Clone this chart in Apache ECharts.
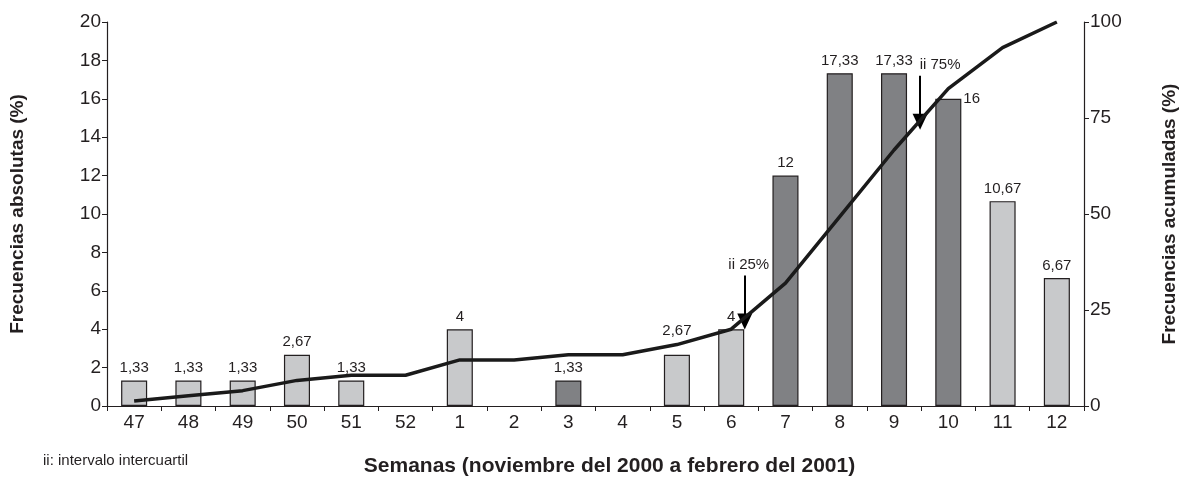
<!DOCTYPE html>
<html>
<head>
<meta charset="utf-8">
<script src="https://cdn.jsdelivr.net/npm/echarts@6/dist/echarts.min.js"></script>
<style>
  html, body { margin: 0; padding: 0; background: #fff; }
  #chart { width: 1184px; height: 478px; }
</style>
</head>
<body>
<div id="chart"></div>
<script>
// semanas epidemiologicas
let weeks = ['47', '48', '49', '50', '51', '52', '1', '2', '3', '4', '5', '6', '7', '8', '9', '10', '11', '12'];
// frecuencias absolutas (%) por semana
let absFreq = [1.33, 1.33, 1.33, 2.67, 1.33, 0, 4, 0, 1.33, 0, 2.67, 4, 12, 17.33, 17.33, 16, 10.67, 6.67];
// frecuencias acumuladas (%)
let cumFreq = [1.33, 2.67, 4, 6.67, 8, 8, 12, 12, 13.33, 13.33, 16, 20, 32, 49.33, 66.67, 82.67, 93.33, 100];
// semanas con barra oscura
let darkWeeks = ['3', '7', '8', '9', '10'];
// flechas del intervalo intercuartil: [posicion x (en semanas), y inicio, y fin]
let iqrLabels = ['ii 25%', 'ii 75%'];
let iqrArrows = [[11.75, 34, 22], [14.98, 86, 74]];

let fontFamily = '"Liberation Sans", Arial, Helvetica, sans-serif';
let txt = '#231f20';

let chart = echarts.init(document.getElementById('chart'));

let barData = absFreq.map((v, i) => {
  let item = {value: v};
  if (v === 0) {
    item.label = {show: false};
    item.itemStyle = {borderWidth: 0};
  }
  if (weeks[i] === '5') item.label = {distance: 16};
  if (weeks[i] === '10') {
    item.label = {position: ['100%', 0], align: 'left', verticalAlign: 'middle', offset: [2, 0]};
  }
  return item;
});

let chartOptions = {
  animation: false,
  textStyle: {fontFamily: fontFamily},
  grid: {left: 107, right: 100, top: 22, bottom: 72, outerBoundsMode: 'none'},
  title: {
    text: 'ii: intervalo intercuartil',
    left: 38, top: 448,
    textStyle: {fontSize: 15, fontWeight: 'normal', color: txt, fontFamily: fontFamily}
  },
  xAxis: [
    {
      type: 'category',
      data: weeks,
      name: 'Semanas (noviembre del 2000 a febrero del 2001)',
      nameLocation: 'middle',
      nameGap: 50,
      nameTextStyle: {fontSize: 21, fontWeight: 'bold', color: txt, padding: [0, 0, 0, 28]},
      axisLine: {lineStyle: {color: '#231f20', width: 1.2}},
      axisTick: {show: true, length: 5, lineStyle: {color: '#231f20'}},
      axisLabel: {fontSize: 19, color: txt, margin: 7}
    },
    {
      type: 'value', min: 0, max: 18, show: false
    }
  ],
  yAxis: [
    {
      type: 'value', min: 0, max: 20, interval: 2,
      name: 'Frecuencias absolutas (%)',
      nameLocation: 'middle', nameGap: 80, nameRotate: 90,
      nameTextStyle: {fontSize: 19, fontWeight: 'bold', color: txt},
      axisLine: {show: true, lineStyle: {color: '#231f20', width: 1.2}},
      axisTick: {show: true, length: 5, lineStyle: {color: '#231f20'}},
      axisLabel: {fontSize: 19, color: txt, margin: 6},
      splitLine: {show: false}
    },
    {
      type: 'value', min: 0, max: 100, interval: 25,
      name: 'Frecuencias acumuladas (%)',
      nameLocation: 'middle', nameGap: 76, nameRotate: 90,
      nameTextStyle: {fontSize: 19, fontWeight: 'bold', color: txt},
      axisLine: {show: true, lineStyle: {color: '#231f20', width: 1.2}},
      axisTick: {show: true, length: 5, lineStyle: {color: '#231f20'}},
      axisLabel: {fontSize: 19, color: txt, margin: 6},
      splitLine: {show: false}
    }
  ],
  series: [
    {
      name: 'absolutas',
      type: 'bar',
      data: barData,
      barWidth: '48%',
      itemStyle: {
        color: (p) => darkWeeks.indexOf(weeks[p.dataIndex]) >= 0 ? '#808184' : '#c8c9cb',
        borderColor: '#231f20',
        borderWidth: 1.2
      },
      label: {
        show: true,
        position: 'top',
        distance: 5,
        fontSize: 15,
        color: txt,
        formatter: (p) => String(p.value).replace('.', ',')
      }
    },
    {
      name: 'acumuladas',
      type: 'line',
      yAxisIndex: 1,
      data: cumFreq,
      symbol: 'none',
      z: 5,
      lineStyle: {color: '#1a1a1a', width: 3.5}
    },
    {
      name: 'ii',
      type: 'scatter',
      xAxisIndex: 1,
      yAxisIndex: 1,
      data: [],
      markLine: {
        silent: true,
        animation: false,
        symbol: ['none', 'triangle'],
        symbolSize: [15, 16],
        lineStyle: {color: '#000', width: 2, type: 'solid'},
        label: {
          show: true, position: 'start', fontSize: 15, color: txt, distance: 3
        },
        data: iqrArrows.map((a, i) => [
          {coord: [a[0], a[1]], label: {formatter: iqrLabels[i], offset: i === 1 ? [20, 0] : [4, 0]}},
          {coord: [a[0], a[2]]}
        ])
      }
    }
  ]
};

chart.setOption(chartOptions);
</script>
</body>
</html>
